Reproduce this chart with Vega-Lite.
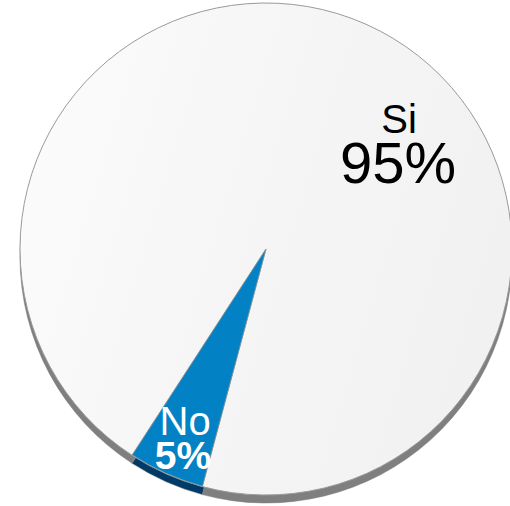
{
  "$schema": "https://vega.github.io/schema/vega-lite/v6.json",
  "width": 488,
  "height": 498,
  "autosize": {"type": "none"},
  "padding": {"left": 22, "top": 0, "right": 0, "bottom": 8},
  "background": "white",
  "config": {"view": {"stroke": null}, "font": "Liberation Sans"},
  "datasets": {
    "pie": [
      {"answer": "No", "value": 5},
      {"answer": "Si", "value": 95}
    ],
    "labels": [
      {"label": "Si", "angle": 48.9, "r": 176.5},
      {"label": "95%", "angle": 63.4, "r": 147.6},
      {"label": "No", "angle": 203.5, "r": 202.9},
      {"label": "5%", "angle": 200.7, "r": 235.1}
    ]
  },
  "layer": [
    {
      "data": {"name": "pie"},
      "mark": {"type": "arc", "outerRadius": 246, "yOffset": 8, "stroke": "#7a7a7a", "strokeWidth": 0.5},
      "encoding": {
        "theta": {"field": "value", "type": "quantitative", "stack": true, "scale": {"range": [3.4034, 9.6866]}},
        "color": {"field": "answer", "type": "nominal", "scale": {"domain": ["No", "Si"], "range": ["#003a66", "#7f7f7f"]}, "legend": null}
      }
    },
    {
      "data": {"name": "pie"},
      "mark": {
        "type": "arc",
        "outerRadius": 246,
        "fill": {"gradient": "linear", "x1": 0, "y1": 0.3, "x2": 1, "y2": 0.6, "stops": [{"offset": 0, "color": "#fbfbfb"}, {"offset": 0.5, "color": "#f5f5f5"}, {"offset": 1, "color": "#f1f1f1"}]},
        "stroke": "#9a9a9a",
        "strokeWidth": 1
      },
      "encoding": {
        "theta": {"field": "value", "type": "quantitative", "stack": true, "scale": {"range": [3.4034, 9.6866]}}
      }
    },
    {
      "data": {"name": "pie"},
      "mark": {"type": "arc", "outerRadius": 245.5, "stroke": "#9a9a9a", "strokeWidth": 0.6},
      "encoding": {
        "theta": {"field": "value", "type": "quantitative", "stack": true, "scale": {"range": [3.4034, 9.6866]}},
        "color": {"field": "answer", "type": "nominal", "scale": {"domain": ["No", "Si"], "range": ["#0281c4", "#f4f4f4"]}, "legend": null},
        "opacity": {"field": "answer", "type": "nominal", "scale": {"domain": ["No", "Si"], "range": [1, 0]}, "legend": null}
      }
    },
    {
      "data": {"name": "labels"},
      "transform": [{"filter": "datum.label === 'Si'"}],
      "mark": {"type": "text", "fontSize": 40, "color": "black", "align": "center", "baseline": "alphabetic"},
      "encoding": {
        "theta": {"field": "angle", "type": "quantitative", "stack": null, "scale": {"type": "linear", "domain": [0, 360], "range": [0, 6.283185]}},
        "radius": {"field": "r", "type": "quantitative", "scale": {"type": "linear", "domain": [0, 250], "range": [0, 250], "zero": true}},
        "text": {"field": "label"}
      }
    },
    {
      "data": {"name": "labels"},
      "transform": [{"filter": "datum.label === '95%'"}],
      "mark": {"type": "text", "fontSize": 58, "color": "black", "align": "center", "baseline": "alphabetic"},
      "encoding": {
        "theta": {"field": "angle", "type": "quantitative", "stack": null, "scale": {"type": "linear", "domain": [0, 360], "range": [0, 6.283185]}},
        "radius": {"field": "r", "type": "quantitative", "scale": {"type": "linear", "domain": [0, 250], "range": [0, 250], "zero": true}},
        "text": {"field": "label"}
      }
    },
    {
      "data": {"name": "labels"},
      "transform": [{"filter": "datum.label === 'No'"}],
      "mark": {"type": "text", "fontSize": 40, "color": "white", "align": "center", "baseline": "alphabetic"},
      "encoding": {
        "theta": {"field": "angle", "type": "quantitative", "stack": null, "scale": {"type": "linear", "domain": [0, 360], "range": [0, 6.283185]}},
        "radius": {"field": "r", "type": "quantitative", "scale": {"type": "linear", "domain": [0, 250], "range": [0, 250], "zero": true}},
        "text": {"field": "label"}
      }
    },
    {
      "data": {"name": "labels"},
      "transform": [{"filter": "datum.label === '5%'"}],
      "mark": {"type": "text", "fontSize": 39, "fontWeight": "bold", "color": "white", "align": "center", "baseline": "alphabetic"},
      "encoding": {
        "theta": {"field": "angle", "type": "quantitative", "stack": null, "scale": {"type": "linear", "domain": [0, 360], "range": [0, 6.283185]}},
        "radius": {"field": "r", "type": "quantitative", "scale": {"type": "linear", "domain": [0, 250], "range": [0, 250], "zero": true}},
        "text": {"field": "label"}
      }
    }
  ],
  "resolve": {"scale": {"theta": "independent", "radius": "independent", "color": "independent", "opacity": "independent"}}
}
